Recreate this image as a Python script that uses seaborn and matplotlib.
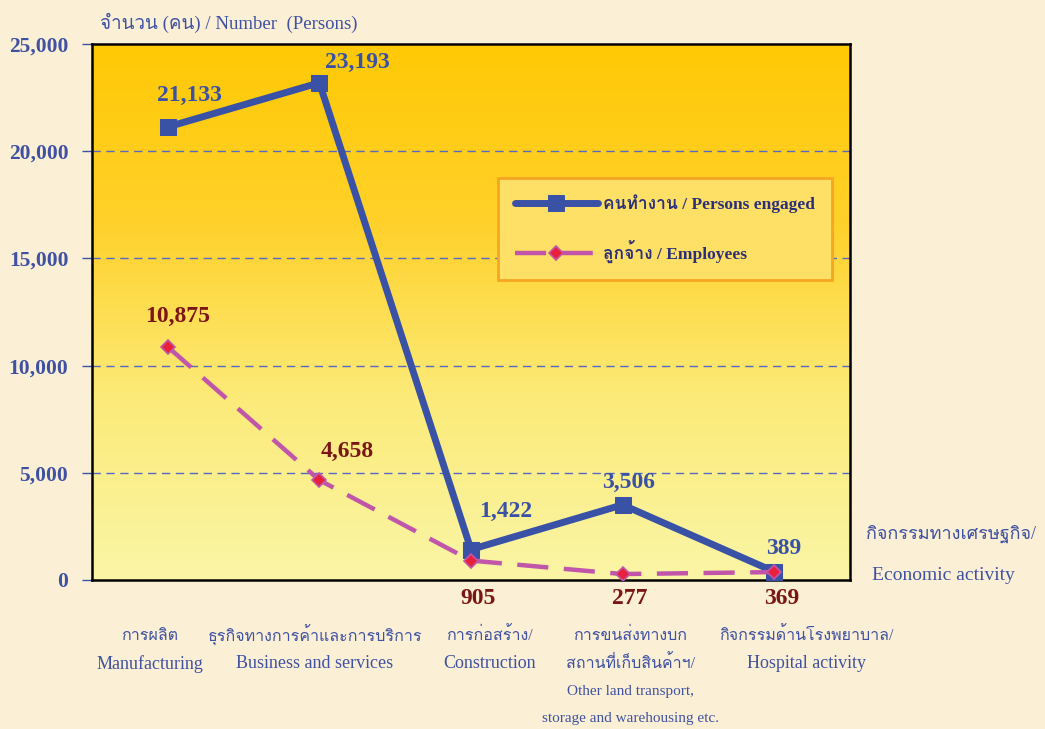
import numpy as np
import pandas as pd
import matplotlib
matplotlib.use('Agg')
import matplotlib.pyplot as plt
import seaborn as sns
from matplotlib import font_manager
from matplotlib.ft2font import FT2Font
from matplotlib.colors import LinearSegmentedColormap
from matplotlib.ticker import FuncFormatter

# data
thai_labels = ['การผลิต', 'ธุรกิจทางการค้าและการบริการ', 'การก่อสร้าง/',
               'การขนส่งทางบก\nสถานที่เก็บสินค้าฯ/', 'กิจกรรมด้านโรงพยาบาล/']
eng_labels = ['Manufacturing', 'Business and services', 'Construction',
              'Other land transport,\nstorage and warehousing etc.', 'Hospital activity']
persons = [21133, 23193, 1422, 3506, 389]
employees = [10875, 4658, 905, 277, 369]
yticks = [0, 5000, 10000, 15000, 20000, 25000]

# find a font with Thai glyphs, if any
thai_family = None
for f in font_manager.fontManager.ttflist:
    try:
        if 0x0E01 in FT2Font(f.fname).get_charmap():
            thai_family = f.name
            break
    except Exception:
        pass
fams = ['Liberation Serif'] + ([thai_family] if thai_family else []) + ['DejaVu Sans']

sns.set_style('white')
plt.rcParams['font.family'] = fams

BLUE = '#3A52A6'
TXT = '#3F51A3'
RED = '#7B1616'
MAG = '#C055AA'

df = pd.DataFrame({'pos': range(len(persons)), 'persons': persons, 'employees': employees})

fig = plt.figure(figsize=(10.45, 7.29), dpi=100, facecolor='#FBF0D6')
ax = fig.add_axes([0.088, 0.2044, 0.7254, 0.7352])

# gradient background of plot area
cmap = LinearSegmentedColormap.from_list('bg', ['#FAF5A6', '#FCEB7A', '#FFD12A', '#FFC905'])
grad = np.linspace(0, 1, 256).reshape(-1, 1)
ax.imshow(grad, extent=[-0.5, 4.5, 0, 25000], aspect='auto', cmap=cmap,
          origin='lower', zorder=0)

for y in yticks[1:-1]:
    ax.axhline(y, color='#5468C4', lw=1, ls=(0, (6, 4)), zorder=1)

sns.lineplot(data=df, x='pos', y='persons', ax=ax, color=BLUE, lw=5,
             marker='s', markersize=11, markeredgecolor=BLUE,
             label='คนทำงาน / Persons engaged', zorder=4)
sns.lineplot(data=df, x='pos', y='employees', ax=ax, color=MAG, lw=3.2,
             linestyle=(0, (7, 3.5)), marker='D', markersize=7,
             markerfacecolor='#E8203C', markeredgecolor=MAG, markeredgewidth=1.2,
             label='ลูกจ้าง / Employees', zorder=5)

ax.set_xlim(-0.5, 4.5)
ax.set_ylim(0, 25000)
ax.set_xticks([])
ax.set_yticks(yticks)
ax.yaxis.set_major_formatter(FuncFormatter(lambda v, p: f'{int(v):,}'))
ax.tick_params(axis='y', left=True, length=7, width=1, color=TXT, pad=10,
               labelsize=15.5, labelcolor=TXT)
for lab in ax.get_yticklabels():
    lab.set_fontweight('bold')
ax.set_xlabel('')
ax.set_ylabel('')
for s in ax.spines.values():
    s.set_color('black')
    s.set_linewidth(1.8)

# value labels (offsets in pixels from the marker)
p_off = [(22, 31), (38, 20), (35, 38), (6, 22), (9, 23)]
for i, v in enumerate(persons):
    ax.annotate(f'{v:,}', (i, v), xytext=p_off[i], textcoords='offset pixels',
                color=BLUE, fontsize=17, fontweight='bold', ha='center', va='center')
e_off = [(10, 30), (28, 29)]
for i in range(2):
    ax.annotate(f'{employees[i]:,}', (i, employees[i]), xytext=e_off[i],
                textcoords='offset pixels', color=RED, fontsize=17,
                fontweight='bold', ha='center', va='center')
tr = ax.get_xaxis_transform()
for i in range(2, len(employees)):
    ax.text(i + 0.05, -0.034, f'{employees[i]:,}', color=RED, fontsize=17,
            fontweight='bold', ha='center', va='center', transform=tr)

# category labels
label_dx = [-0.12, -0.03, 0.12, 0.05, 0.21]
for i, (th, en) in enumerate(zip(thai_labels, eng_labels)):
    x = i + label_dx[i]
    y = -0.104
    for t in th.split('\n'):
        ax.text(x, y, t, ha='center', va='center', color=TXT, fontsize=11.5, transform=tr)
        y -= 0.052
    en_lines = en.split('\n')
    for t in en_lines:
        fs = 13 if len(en_lines) == 1 else 11
        ax.text(x, y, t, ha='center', va='center', color=TXT, fontsize=fs, transform=tr)
        y -= 0.051

fig.text(0.096, 0.969, 'จำนวน (คน) / Number  (Persons)', color=TXT, fontsize=13.5,
         ha='left', va='center')
fig.text(0.829, 0.267, 'กิจกรรมทางเศรษฐกิจ/', color=TXT, fontsize=13, ha='left', va='center')
fig.text(0.834, 0.211, 'Economic activity', color=TXT, fontsize=14, ha='left', va='center')

leg = ax.legend(loc='upper left', bbox_to_anchor=(0.536, 0.75), borderaxespad=0,
                frameon=True, fancybox=False, handlelength=4.8, handletextpad=0.3,
                labelspacing=1.55, borderpad=0.95, prop={'size': 12.5, 'weight': 'bold'})
leg.get_frame().set_facecolor('#FFE066')
leg.get_frame().set_edgecolor('#F5A623')
leg.get_frame().set_linewidth(2)
leg.get_frame().set_alpha(1)
for t in leg.get_texts():
    t.set_color('#2B2F78')

fig.savefig('out.png', dpi=100, facecolor=fig.get_facecolor())
